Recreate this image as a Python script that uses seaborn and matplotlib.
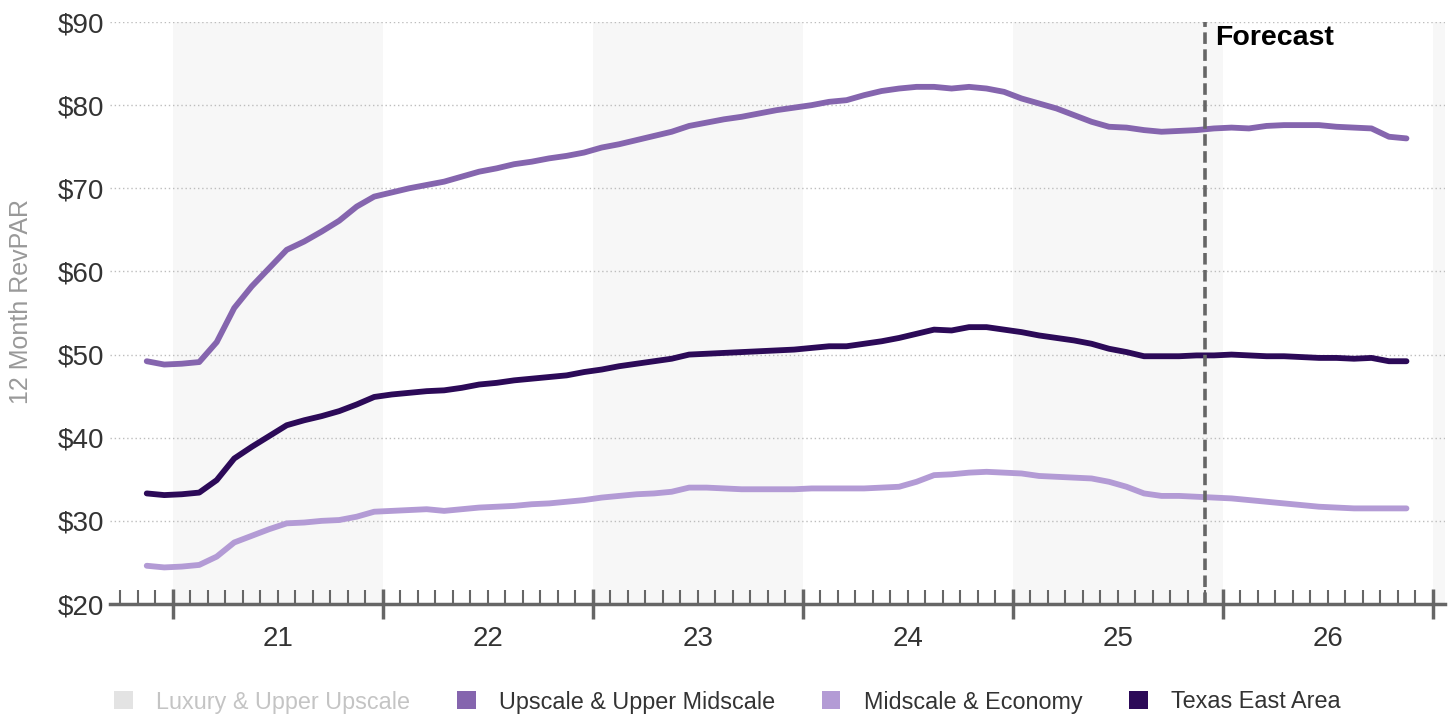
import numpy as np
import pandas as pd
import matplotlib
matplotlib.use("Agg")
import matplotlib.pyplot as plt
import seaborn as sns
from matplotlib.patches import Patch

# monthly 12-month RevPAR, Nov 2020 .. Nov 2026
first_month = "2020-11"
last_month = "2026-11"
forecast_start = "2025-12"

upscale = [49.2, 48.8, 48.9, 49.1, 51.5, 55.6, 58.2, 60.4, 62.6, 63.6, 64.8, 66.1, 67.8, 69.0, 69.5, 70.0, 70.4,
           70.8, 71.4, 72.0, 72.4, 72.9, 73.2, 73.6, 73.9, 74.3, 74.9, 75.3, 75.8, 76.3, 76.8, 77.5, 77.9,
           78.3, 78.6, 79.0, 79.4, 79.7, 80.0, 80.4, 80.6, 81.2, 81.7, 82.0, 82.2, 82.2, 82.0, 82.2, 82.0,
           81.6, 80.8, 80.2, 79.6, 78.8, 78.0, 77.4, 77.3, 77.0, 76.8, 76.9, 77.0,
           77.2, 77.3, 77.2, 77.5, 77.6, 77.6, 77.6, 77.4, 77.3, 77.2, 76.2, 76.0]
midscale = [24.6, 24.4, 24.5, 24.7, 25.7, 27.4, 28.2, 29.0, 29.7, 29.8, 30.0, 30.1, 30.5, 31.1, 31.2, 31.3, 31.4,
            31.2, 31.4, 31.6, 31.7, 31.8, 32.0, 32.1, 32.3, 32.5, 32.8, 33.0, 33.2, 33.3, 33.5, 34.0, 34.0,
            33.9, 33.8, 33.8, 33.8, 33.8, 33.9, 33.9, 33.9, 33.9, 34.0, 34.1, 34.7, 35.5, 35.6, 35.8, 35.9,
            35.8, 35.7, 35.4, 35.3, 35.2, 35.1, 34.7, 34.1, 33.3, 33.0, 33.0, 32.9,
            32.8, 32.7, 32.5, 32.3, 32.1, 31.9, 31.7, 31.6, 31.5, 31.5, 31.5, 31.5]
texas_east = [33.3, 33.1, 33.2, 33.4, 34.9, 37.5, 38.9, 40.2, 41.5, 42.1, 42.6, 43.2, 44.0, 44.9, 45.2, 45.4, 45.6,
              45.7, 46.0, 46.4, 46.6, 46.9, 47.1, 47.3, 47.5, 47.9, 48.2, 48.6, 48.9, 49.2, 49.5, 50.0, 50.1,
              50.2, 50.3, 50.4, 50.5, 50.6, 50.8, 51.0, 51.0, 51.3, 51.6, 52.0, 52.5, 53.0, 52.9, 53.3, 53.3,
              53.0, 52.7, 52.3, 52.0, 51.7, 51.3, 50.7, 50.3, 49.8, 49.8, 49.8, 49.9,
              49.9, 50.0, 49.9, 49.8, 49.8, 49.7, 49.6, 49.6, 49.5, 49.6, 49.2, 49.2]

years = [2021, 2022, 2023, 2024, 2025, 2026, 2027]
year_labels = ["21", "22", "23", "24", "25", "26"]
shaded_years = [2021, 2023, 2025, 2027]
y_ticks = [20, 30, 40, 50, 60, 70, 80, 90]

series_names = ["Luxury & Upper Upscale", "Upscale & Upper Midscale", "Midscale & Economy", "Texas East Area"]
colors = ["#e3e3e3", "#8565ae", "#b39bd5", "#2c0a58"]


def month_pos(p):
    # months since Jan 2021
    return (p.year - 2021) * 12 + (p.month - 1)


periods = pd.period_range(first_month, last_month, freq="M")
pos = np.asarray(month_pos(periods)) + 0.5  # centre of the month
df = pd.DataFrame({"pos": pos,
                   "Upscale & Upper Midscale": upscale,
                   "Midscale & Economy": midscale,
                   "Texas East Area": texas_east})
df = df.melt(id_vars="pos", var_name="series", value_name="revpar")

sns.set_theme(style="white")
plt.rcParams["font.family"] = ["Liberation Sans", "DejaVu Sans"]

fig, ax = plt.subplots(figsize=(14.55, 7.17), dpi=100)
fig.subplots_adjust(left=0.0756, right=0.9931, bottom=0.1576, top=0.9693)

year_pos = [(y - 2021) * 12 for y in years]
for y in shaded_years:
    s = (y - 2021) * 12
    ax.axvspan(s, s + 12, color="#f7f7f7", zorder=0, lw=0)

ax.yaxis.grid(True, linestyle=(0, (1, 2)), color="#bdbdbd", linewidth=1)
ax.set_axisbelow(True)

sns.lineplot(data=df, x="pos", y="revpar", hue="series",
             palette=dict(zip(series_names[1:], colors[1:])),
             linewidth=4.2, legend=False, ax=ax, solid_capstyle="round", zorder=3)

fpos = month_pos(pd.Period(forecast_start, freq="M"))
ax.axvline(fpos, color="#666666", linestyle=(0, (3.2, 1.5)), linewidth=2.6, zorder=4)
ax.annotate("Forecast", xy=(fpos, 90), xytext=(10, -3), textcoords="offset pixels",
            fontsize=20.5, fontweight="bold", color="black", ha="left", va="top")

ax.set_xlim(-3.6, 72.7)
ax.set_ylim(20, 90)

for side in ["left", "top", "right"]:
    ax.spines[side].set_visible(False)
ax.spines["bottom"].set_color("#666666")
ax.spines["bottom"].set_linewidth(2.5)

ax.set_xticks(year_pos, labels=[""] * len(year_pos))
minor = [m for m in range(-3, 72) if m % 12 != 0]
ax.set_xticks(minor, minor=True)
ax.tick_params(axis="x", which="major", bottom=True, length=22, width=2.5, direction="inout", color="#666666")
ax.tick_params(axis="x", which="minor", bottom=True, length=10, width=1.5, direction="in", color="#666666")

sec = ax.secondary_xaxis("bottom")
sec.set_xticks([p + 6 for p in year_pos[:-1]], labels=year_labels)
sec.tick_params(length=0, pad=16, labelsize=20, labelcolor="#333333")
sec.spines["bottom"].set_visible(False)

ax.set_yticks(y_ticks, labels=[f"${v}" for v in y_ticks])
ax.tick_params(axis="y", length=0, pad=4, labelsize=20, labelcolor="#333333")
ax.set_xlabel("")
ax.set_ylabel("12 Month RevPAR", fontsize=18, color="#999999")
ax.yaxis.set_label_coords(-0.058, 0.52)

handles = [Patch(facecolor=c, edgecolor="none", label=n) for n, c in zip(series_names, colors)]
leg = fig.legend(handles=handles, loc="center", bbox_to_anchor=(0.5, 1 - 702 / 717), ncol=4,
                 frameon=False, fontsize=16.8, handlelength=0.8, handleheight=0.8,
                 handletextpad=1.0, columnspacing=2.0)
for i, t in enumerate(leg.get_texts()):
    t.set_color("#c4c4c4" if i == 0 else "#333333")

fig.savefig("out.png", dpi=100)
